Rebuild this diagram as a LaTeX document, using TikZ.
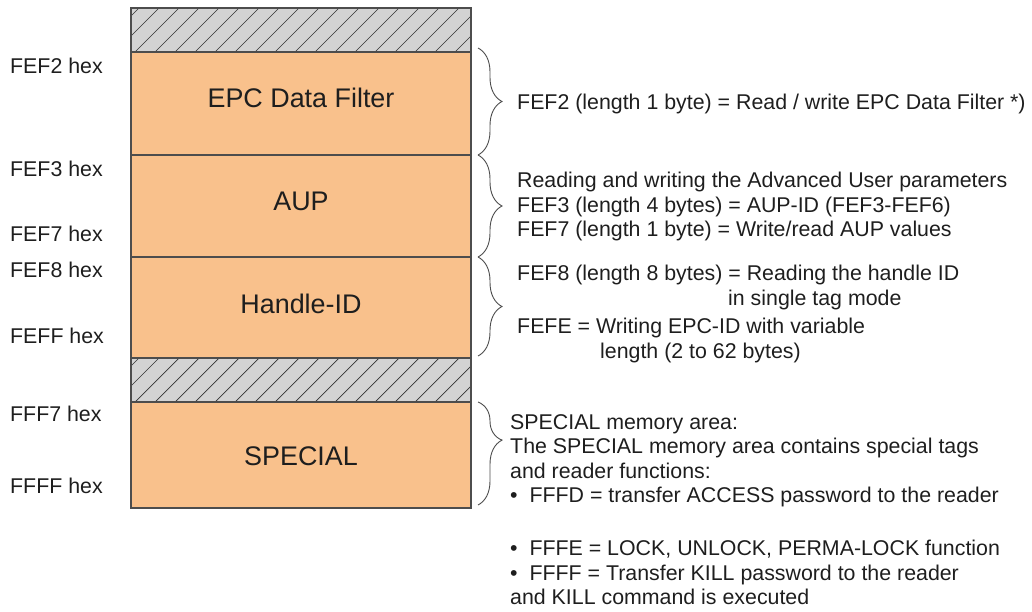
\documentclass[tikz,border=0pt]{standalone}
\usepackage{fontspec}
\setmainfont{Liberation Sans}
\usetikzlibrary{decorations.pathreplacing}
\definecolor{mem}{HTML}{F9C18C}
\definecolor{hatchfill}{HTML}{D3D3D3}
\definecolor{edge}{HTML}{4D4D4D}
\definecolor{ink}{HTML}{1E1E1E}
\begin{document}
\begin{tikzpicture}[x=1pt,y=-1pt,
  region/.style={draw=edge, fill=mem, line width=1.2pt, minimum width=340pt,
    inner sep=0pt, outer sep=0pt},
  regionname/.style={inner sep=0pt, font=\fontsize{26.9}{30}\selectfont, text=ink},
  gap/.style={fill=hatchfill, minimum width=340pt, minimum height=44pt,
    inner sep=0pt, outer sep=0pt},
  hatch/.style={draw=black!80, line width=0.7pt},
  frame/.style={draw=edge, line width=1.2pt},
  addr/.style={anchor=base west, inner sep=0pt, font=\fontsize{21.35}{24}\selectfont, text=ink},
  note/.style={anchor=base west, inner sep=0pt, font=\fontsize{21.35}{24.6}\selectfont,
    text=ink, align=left},
  curly/.style={decorate, decoration={brace, amplitude=24pt}, draw=edge, line width=0.9pt},
]
\useasboundingbox (0,0) rectangle (1032,612);

% unused (reserved) address ranges, hatched
\node[gap] (topgap) at (301,30) {};
\node[gap] (midgap) at (301,380) {};
\foreach \g in {topgap,midgap}{
  \begin{scope}
    \clip (\g.north west) rectangle (\g.south east);
    \foreach \i in {-3,...,17}
      \draw[hatch] ([xshift=\i*20pt+4pt]\g.south west) -- ++(44,-44);
  \end{scope}
  \draw[frame] (\g.north west) rectangle (\g.south east);
}

% memory regions
\node[region, minimum height=103pt] (epc) at (301,103.5) {};
\node[region, minimum height=102pt] (aup) at (301,206) {};
\node[region, minimum height=101pt] (hid) at (301,307.5) {};
\node[region, minimum height=106pt] (spec) at (301,455) {};
\node[regionname] (epcname) at ([yshift=5.5pt]epc.center) {EPC Data Filter};
\node[regionname] (aupname) at ([yshift=5pt]aup.center) {AUP};
\node[regionname] (hidname) at ([yshift=3.5pt]hid.center) {Handle-ID};
\node[regionname] (specname) at ([yshift=-1.5pt]spec.center) {SPECIAL};

% start / end addresses
\node[addr] (a1) at (10,73.5) {FEF2 hex};
\node[addr] (a2) at (10,176.5) {FEF3 hex};
\node[addr] (a3) at (10,241.5) {FEF7 hex};
\node[addr] (a4) at (10,277.5) {FEF8 hex};
\node[addr] (a5) at (10,343.5) {FEFF hex};
\node[addr] (a6) at (10,421.5) {FFF7 hex};
\node[addr] (a7) at (10,493.5) {FFFF hex};

% braces grouping each region
\draw[curly] ([xshift=7pt,yshift=4pt]epc.north east) -- ([xshift=7pt]epc.south east);
\draw[curly] ([xshift=7pt]aup.north east) -- ([xshift=7pt]aup.south east);
\draw[curly] ([xshift=7pt]hid.north east) -- ([xshift=7pt,yshift=2pt]hid.south east);
\draw[curly, decoration={aspect=0.37}] ([xshift=7pt]spec.north east) -- ([xshift=7pt,yshift=3pt]spec.south east);

% descriptions
\node[note] (d1) at (517,109.5) {FEF2 (length 1 byte) = Read / write EPC Data Filter *)};
\node[note, anchor=north west] (d2) at (517,172) {Reading and writing the Advanced User parameters\\
FEF3 (length 4 bytes) = AUP-ID (FEF3-FEF6)\\
FEF7 (length 1 byte) = Write/read AUP values};
\node[note] (d3) at (517,280.5) {FEF8 (length 8 bytes) = Reading the handle ID};
\node[note] (d3b) at (728,305.5) {in single tag mode};
\node[note] (d4) at (517,333.5) {FEFE = Writing EPC-ID with variable};
\node[note] (d4b) at (600,358.5) {length (2 to 62 bytes)};
\node[note, anchor=north west] (d5) at (510,414) {SPECIAL memory area:\\
The SPECIAL memory area contains special tags\\
and reader functions:\\
\textbullet\ \ FFFD = transfer ACCESS password to the reader};
\node[note, anchor=north west] (d6) at (510,540) {\textbullet\ \ FFFE = LOCK, UNLOCK, PERMA-LOCK function\\
\textbullet\ \ FFFF = Transfer KILL password to the reader\\
and KILL command is executed};
\end{tikzpicture}
\end{document}
